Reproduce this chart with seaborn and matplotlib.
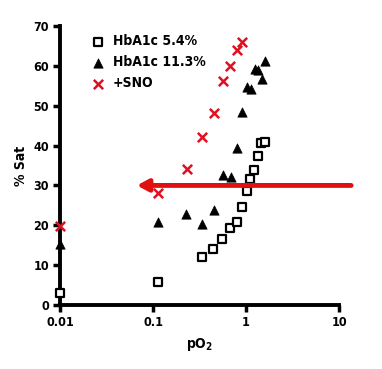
import matplotlib
matplotlib.use("Agg")
import matplotlib.pyplot as plt
import seaborn as sns
import pandas as pd
import numpy as np

# Data
po2_low = [0.01, 0.113, 0.336, 0.44, 0.55, 0.67, 0.80, 0.906, 1.03, 1.10, 1.22, 1.35, 1.45, 1.60]
sat_low = [3.0, 5.8, 12.1, 14.1, 16.6, 19.4, 20.7, 24.7, 28.5, 31.7, 33.8, 37.3, 40.6, 40.8]

po2_high = [0.01, 0.113, 0.226, 0.336, 0.45, 0.566, 0.69, 0.80, 0.906, 1.03, 1.13, 1.25, 1.35, 1.49, 1.60]
sat_high = [15.4, 20.9, 22.9, 20.2, 23.9, 32.7, 32.2, 39.3, 48.4, 54.7, 54.2, 59.2, 58.9, 56.7, 61.2]

po2_sno = [0.01, 0.113, 0.232, 0.336, 0.45, 0.566, 0.67, 0.80, 0.906]
sat_sno = [19.9, 28.0, 34.0, 42.1, 48.1, 56.2, 60.0, 64.0, 66.0]

labels = ["HbA1c 5.4%", "HbA1c 11.3%", "+SNO"]
x_ticks = [0.01, 0.1, 1, 10]
x_ticklabels = ["0.01", "0.1", "1", "10"]
y_ticks = [0, 10, 20, 30, 40, 50, 60, 70]
arrow_y = 30
arrow_x = [13.5, 0.067]

sns.set_style("white")
plt.rcParams['font.family'] = ['DejaVu Sans']
plt.rcParams['font.stretch'] = 'condensed'
plt.rcParams['font.weight'] = 'bold'
plt.rcParams['text.color'] = 'black'
plt.rcParams['axes.labelcolor'] = 'black'
plt.rcParams['xtick.color'] = 'black'
plt.rcParams['ytick.color'] = 'black'

fig = plt.figure(figsize=(3.82, 3.69), dpi=100)
ax = fig.add_axes([60/382, 1-305/369, (339-60)/382, (305-26)/369])

df_low = pd.DataFrame({"pO2": po2_low, "sat": sat_low})
df_high = pd.DataFrame({"pO2": po2_high, "sat": sat_high})
df_sno = pd.DataFrame({"pO2": po2_sno, "sat": sat_sno})

sns.scatterplot(data=df_low, x="pO2", y="sat", marker="s", s=36, facecolor="white",
                edgecolor="black", linewidth=1.6, label=labels[0], ax=ax, clip_on=False, zorder=3)
sns.scatterplot(data=df_high, x="pO2", y="sat", marker="^", s=45, color="black",
                edgecolor="black", linewidth=0.5, label=labels[1], ax=ax, clip_on=False, zorder=3)
sns.scatterplot(data=df_sno, x="pO2", y="sat", marker="x", s=45, color="#e01020",
                linewidth=1.8, label=labels[2], ax=ax, clip_on=False, zorder=3)

ax.set_xscale("log")
ax.set_xlim(0.01, 10)
ax.set_ylim(0, 70)
ax.set_xticks(x_ticks)
ax.set_xticklabels(x_ticklabels)
ax.xaxis.set_minor_locator(matplotlib.ticker.NullLocator())
ax.set_yticks(y_ticks)
ax.set_yticklabels([str(v) for v in y_ticks])

for side in ["top", "right"]:
    ax.spines[side].set_visible(False)
for side in ["left", "bottom"]:
    ax.spines[side].set_linewidth(2.8)
    ax.spines[side].set_color("black")

ax.tick_params(axis="both", which="major", direction="out", length=5, width=2.5,
               labelsize=9, pad=3, left=True, bottom=True, colors="black")
for lab in ax.get_xticklabels() + ax.get_yticklabels():
    lab.set_fontweight("bold")

ax.set_xlabel("pO$_2$", fontsize=10, fontweight="bold", labelpad=5, color="black")
ax.set_ylabel("% Sat", fontsize=10, fontweight="bold", labelpad=4, color="black")

ax.annotate("", xy=(arrow_x[1], arrow_y), xytext=(arrow_x[0], arrow_y),
            xycoords="data", textcoords="data", annotation_clip=False,
            arrowprops=dict(arrowstyle="-|>,head_length=0.65,head_width=0.35",
                            color="#e01010", lw=3.5, shrinkA=0, shrinkB=0))

leg = ax.legend(loc="upper left", bbox_to_anchor=(0.065, 1.015), frameon=False,
                prop={"size": 10, "weight": "bold"}, handletextpad=0.6,
                labelspacing=0.5, handlelength=1.0)
for t in leg.get_texts():
    t.set_color("black")

fig.savefig("out.png", dpi=100)
